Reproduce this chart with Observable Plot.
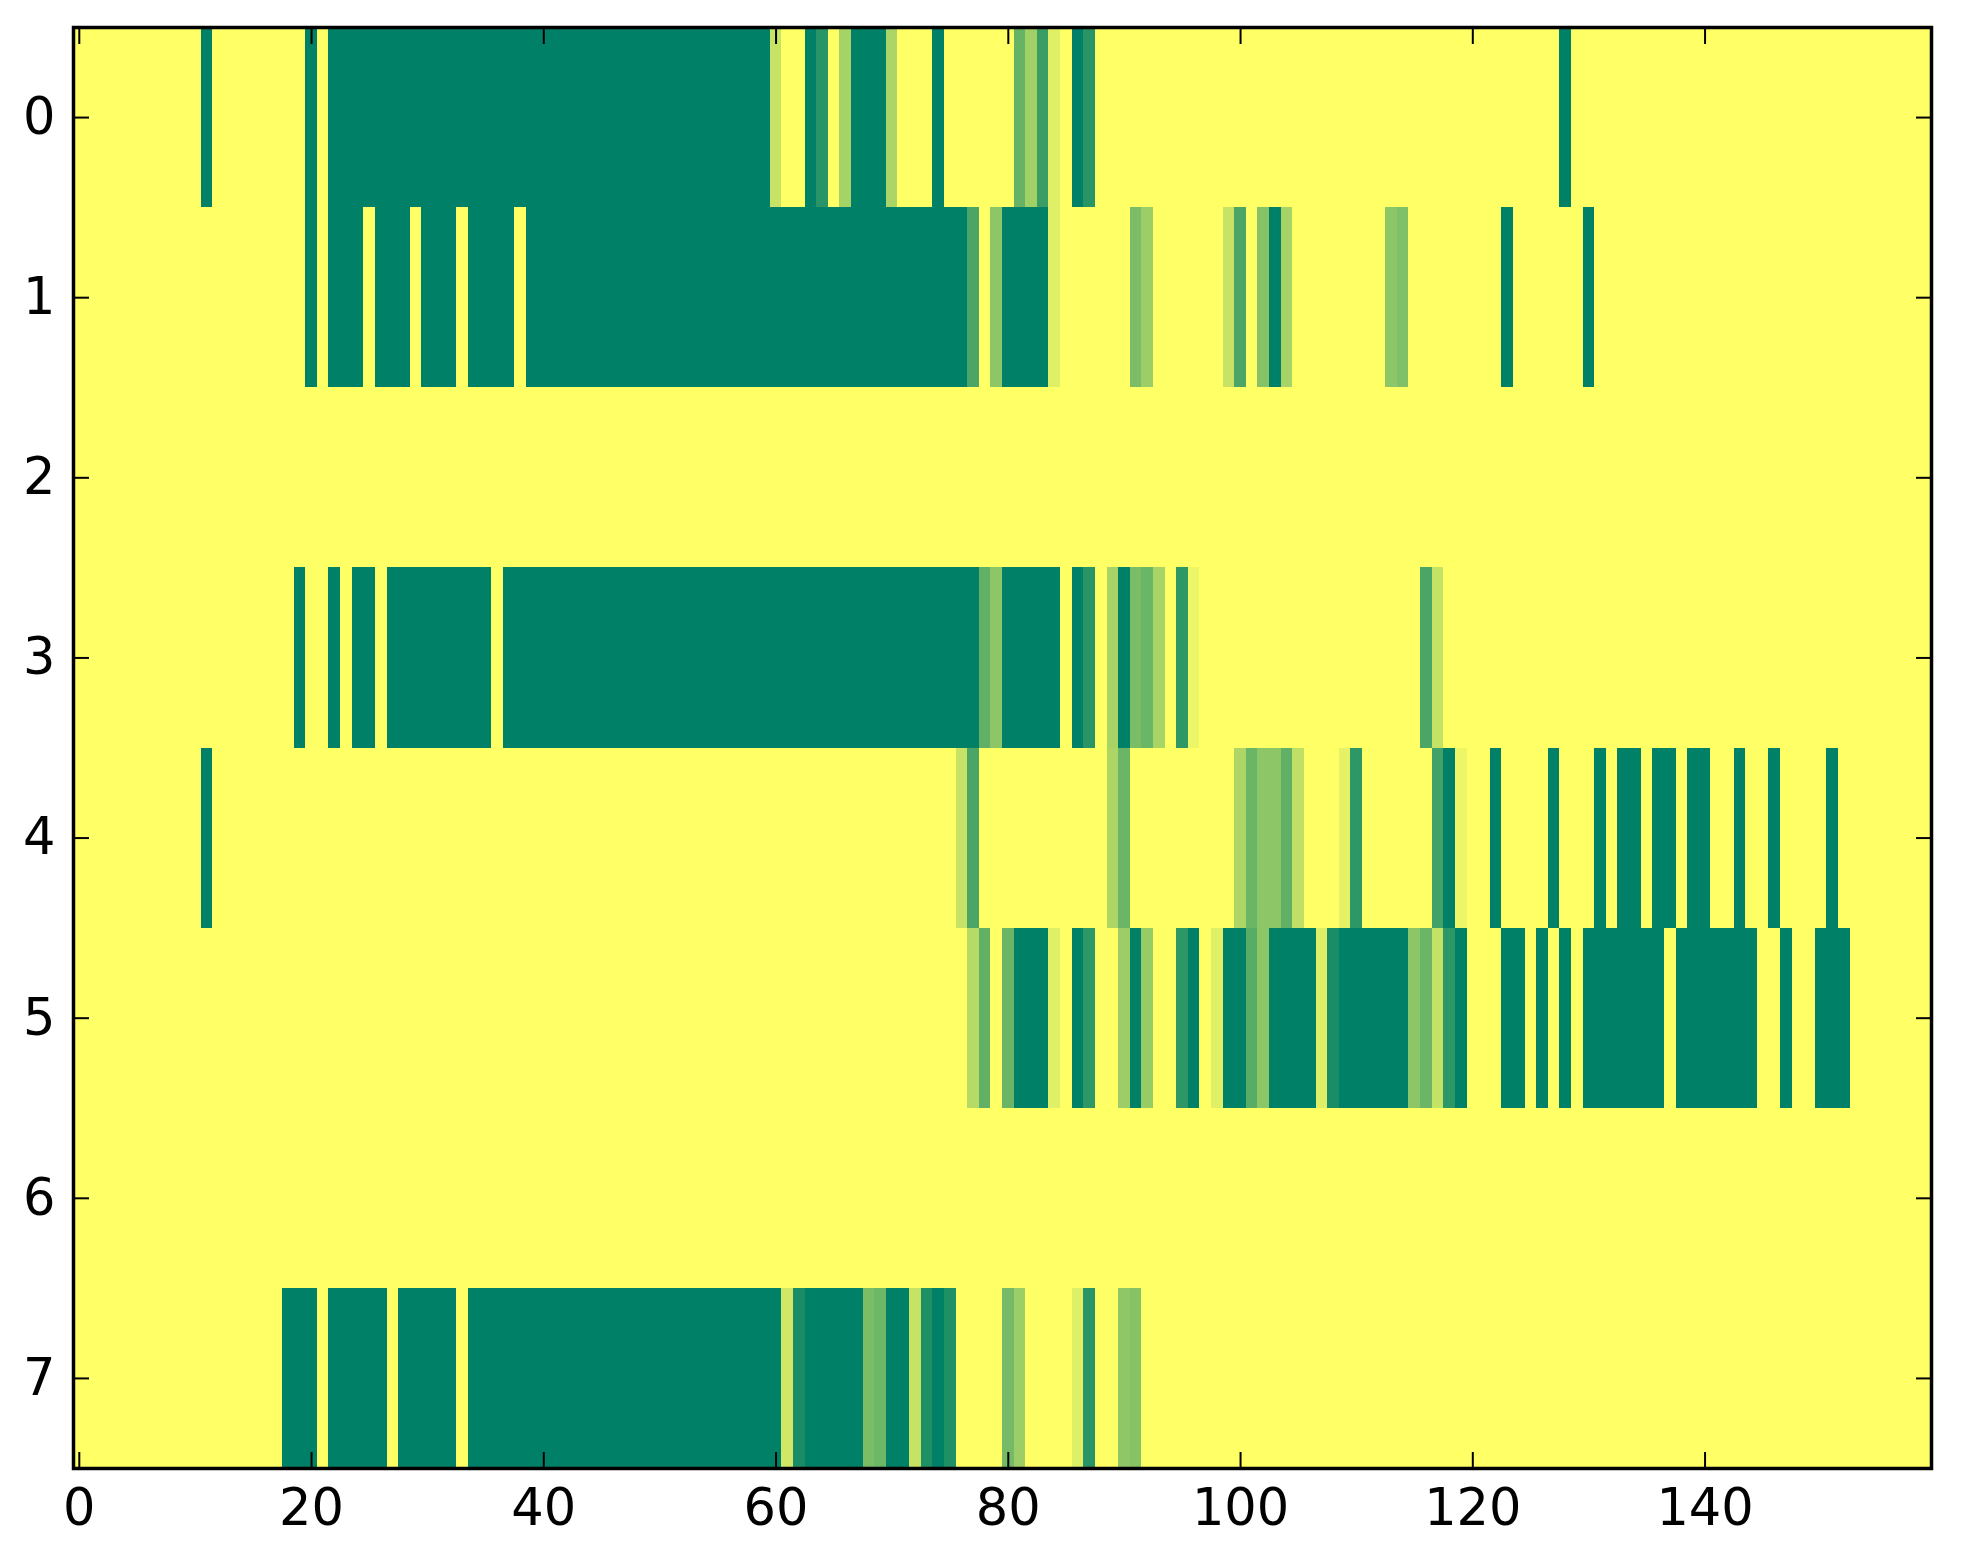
<!DOCTYPE html>
<html><head><meta charset="utf-8">
<script src="https://cdn.jsdelivr.net/npm/d3@7"></script>
<script src="https://cdn.jsdelivr.net/npm/@observablehq/plot@0.6"></script>
<style>body{margin:0;background:#fff}</style>
</head><body><div id="chart"></div>
<script>
const nCols = 160;
const rowLabels = [0, 1, 2, 3, 4, 5, 6, 7];
const xTicks = [0, 20, 40, 60, 80, 100, 120, 140];
// non-zero cells per row: [firstCol, lastCol, value]; all other cells are 0
const row0 = [[11,11,1],[20,20,1],[22,59,1],[60,60,0.22],[63,63,1],[64,64,0.84],[66,66,0.35],[67,69,1],[70,70,0.33],[74,74,1],[81,81,0.6],[82,82,0.37],[83,83,0.77],[84,84,0.12],[86,86,1],[87,87,0.84],[128,128,1]];
const row1 = [[20,20,1],[22,24,1],[26,28,1],[30,32,1],[34,37,1],[39,76,1],[77,77,0.71],[79,79,0.45],[80,83,1],[84,84,0.12],[91,91,0.52],[92,92,0.39],[99,99,0.22],[100,100,0.71],[102,102,0.47],[103,103,1],[104,104,0.35],[113,113,0.45],[114,114,0.5],[123,123,1],[130,130,1]];
const row2 = [];
const row3 = [[19,19,1],[22,22,1],[24,25,1],[27,35,1],[37,77,1],[78,78,0.62],[79,79,0.45],[80,84,1],[86,86,1],[87,87,0.84],[89,89,0.34],[90,90,1],[91,91,0.52],[92,92,0.58],[93,93,0.34],[95,95,0.82],[96,96,0.07],[116,116,0.71],[117,117,0.23]];
const row4 = [[11,11,1],[76,76,0.22],[77,77,0.71],[89,89,0.32],[90,90,0.58],[100,100,0.32],[101,101,0.58],[102,103,0.45],[104,104,0.62],[105,105,0.25],[109,109,0.1],[110,110,0.82],[117,117,0.74],[118,118,1],[119,119,0.07],[122,122,1],[127,127,1],[131,131,1],[133,134,1],[136,137,1],[139,140,1],[143,143,1],[146,146,1],[151,151,1]];
const row5 = [[77,77,0.29],[78,78,0.62],[80,80,0.58],[81,83,1],[84,84,0.12],[86,86,1],[87,87,0.82],[90,90,0.39],[91,91,1],[92,92,0.41],[95,95,0.82],[96,96,1],[98,98,0.12],[99,100,1],[101,101,0.65],[102,102,0.45],[103,106,1],[107,107,0.12],[108,108,0.9],[109,114,1],[115,115,0.45],[116,116,0.58],[117,117,0.23],[118,118,0.82],[119,119,1],[123,124,1],[126,126,1],[128,128,1],[130,136,1],[138,144,1],[147,147,1],[150,152,1]];
const row6 = [];
const row7 = [[18,20,1],[22,26,1],[28,32,1],[34,60,1],[61,61,0.18],[62,62,0.9],[63,67,1],[68,68,0.52],[69,69,0.57],[70,71,1],[72,72,0.22],[73,73,0.88],[74,74,1],[75,75,0.88],[80,80,0.54],[81,81,0.39],[86,86,0.12],[87,87,0.84],[90,90,0.44],[91,91,0.47]];

const rows = [row0, row1, row2, row3, row4, row5, row6, row7];
const cells = [];
rows.forEach((runs, r) => {
  const vals = new Array(nCols).fill(0);
  for (const [a, b, v] of runs) for (let c = a; c <= b; c++) vals[c] = v;
  vals.forEach((v, c) => cells.push({row: rowLabels[r], col: c, value: v}));
});

const TS = -16;
const intFmt = d3.format("d");
const chart = Plot.plot({
  width: 1963,
  height: 1564,
  marginLeft: 73,
  marginRight: 32,
  marginTop: 27,
  marginBottom: 96,
  style: {fontFamily: "DejaVu Sans", fontSize: "51px", background: "white", color: "black"},
  x: {domain: [-0.5, nCols - 0.5]},
  y: {domain: [-0.5, rowLabels.length - 0.5], reverse: true},
  color: {type: "linear", domain: [0, 1], range: ["#ffff66", "#008066"], interpolate: "rgb"},
  marks: [
    Plot.rect(cells, {
      x1: d => d.col - 0.5, x2: d => d.col + 0.5,
      y1: d => d.row - 0.5, y2: d => d.row + 0.5,
      fill: "value", shapeRendering: "crispEdges"
    }),
    Plot.axisX(xTicks, {anchor: "bottom", tickSize: TS, tickPadding: 36, tickFormat: intFmt, strokeWidth: 2, label: null}),
    Plot.axisX(xTicks, {anchor: "top", tickSize: TS, tickFormat: () => "", strokeWidth: 2, label: null}),
    Plot.axisY(rowLabels, {anchor: "left", tickSize: TS, tickPadding: 34, tickFormat: intFmt, strokeWidth: 2, label: null}),
    Plot.axisY(rowLabels, {anchor: "right", tickSize: TS, tickFormat: () => "", strokeWidth: 2, label: null}),
    Plot.frame({stroke: "black", strokeWidth: 3.5})
  ]
});
document.getElementById("chart").appendChild(chart);
</script>
</body></html>
